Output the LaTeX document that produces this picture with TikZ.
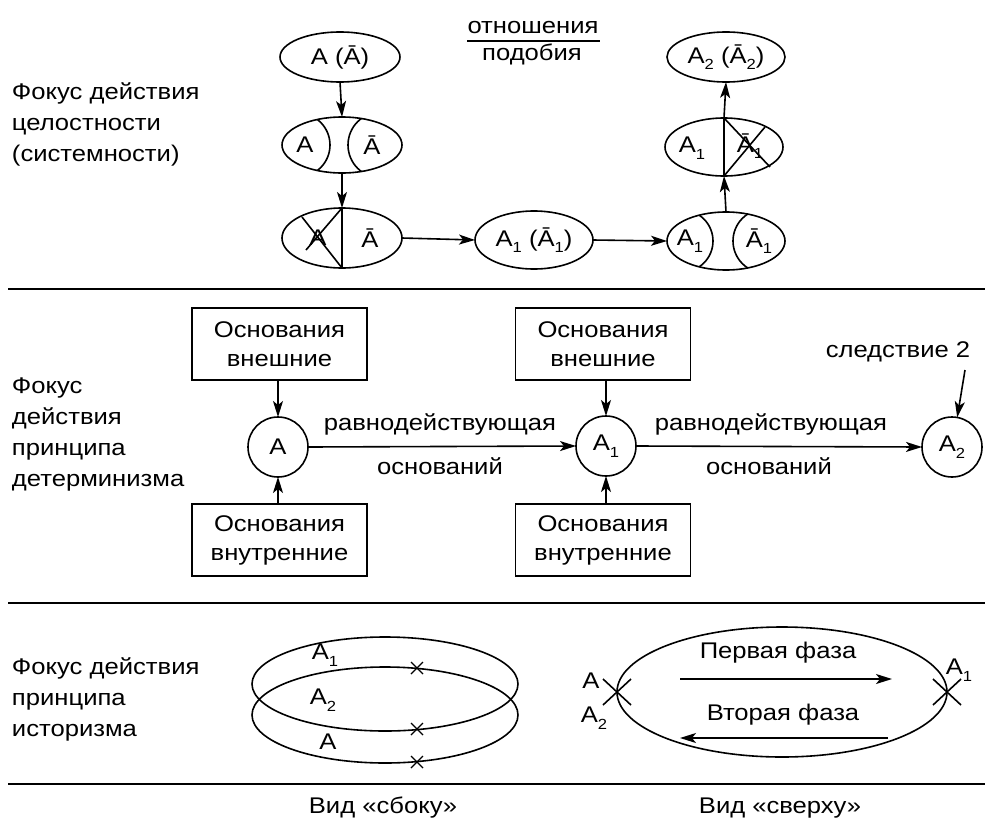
\documentclass[tikz,border=0pt]{standalone}
\usepackage{fontspec}
\setmainfont[FakeStretch=1.13]{Liberation Sans}
\usetikzlibrary{arrows.meta,shapes.geometric}
\newcommand{\sbx}[1]{\raisebox{-0.55ex}{\fontsize{11pt}{11pt}\selectfont #1}}
\begin{document}
\begin{tikzpicture}[x=0.75pt,y=-0.75pt,
  every node/.style={font=\fontsize{17pt}{23.25pt}\selectfont, inner sep=0pt, outer sep=0pt},
  ln/.style={line width=1.2pt},
  sep/.style={line width=2pt},
  arr/.style={ln, -{Stealth[length=12pt,width=7.5pt,inset=3pt]}},
  ell/.style={draw, ln, ellipse},
  circ/.style={draw, ln, circle, minimum size=45pt},
  box/.style={draw, ln, rectangle, minimum width=131.25pt, minimum height=54pt, align=center, font=\fontsize{17pt}{21.75pt}\selectfont},
  lbl/.style={anchor=west, align=left},
  xm/.style={line width=1pt}
]
\useasboundingbox (0,0) rectangle (1000,832);

% ---------- separators
\draw[sep] (8,289) -- (985,289);
\draw[sep] (8,603) -- (985,603);
\draw[sep] (8,784) -- (985,784);

% ---------- top section
\node[lbl] (t1) at (12,124) {Фокус действия\\целостности\\(системности)};

\node[ell, minimum width=90pt, minimum height=37.5pt] (E1) at (340,57) {};
\node (E1t) at (340,57) {A (Ā)};
\node[ell, minimum width=90pt, minimum height=42pt] (E2) at (342,145) {};
\node[ell, minimum width=90pt, minimum height=45pt] (E3) at (342,238) {};
\node[ell, minimum width=88.5pt, minimum height=43.5pt] (E4) at (534,240) {};
\node (E4t) at (534,240) {A\sbx{1} (Ā\sbx{1})};
\node[ell, minimum width=88.5pt, minimum height=43.5pt] (E5) at (726,241) {};
\node[ell, minimum width=88.5pt, minimum height=43.5pt] (E6) at (724,147) {};
\node[ell, minimum width=88.5pt, minimum height=37.5pt] (E7) at (726,57) {};
\node (E7t) at (726,57) {A\sbx{2} (Ā\sbx{2})};

% inner arcs of E2
\begin{scope}
  \clip (342,145) ellipse [x radius=60, y radius=28];
  \draw[ln] (298,145) circle [radius=32];
  \draw[ln] (381,145) circle [radius=33];
\end{scope}
\node (E2a) at (305,145) {A};
\node (E2b) at (372,145) {Ā};

% E3 split and cross
\draw[ln] (E3.north) -- (E3.south);
\draw[ln] (342,208) -- (306,250);
\draw[ln] (302,217) -- (342,268);
\node (E3a) at (318,238) {A};
\node (E3b) at (370,238) {Ā};

% inner arcs of E5
\begin{scope}
  \clip (726,241) ellipse [x radius=59, y radius=29];
  \draw[ln] (682,241) circle [radius=31];
  \draw[ln] (765,241) circle [radius=32];
\end{scope}
\node (E5a) at (690,241) {A\sbx{1}};
\node (E5b) at (759,241) {Ā\sbx{1}};

% E6 split and cross
\draw[ln] (E6.north) -- (E6.south);
\draw[ln] (724,118) -- (770,167);
\draw[ln] (724,176) -- (765,127);
\node (E6a) at (692,148) {A\sbx{1}};
\node (E6b) at (750,146) {Ā\sbx{1}};

\draw[arr] (E1.south) -- (E2.north);
\draw[arr] (E2.south) -- (E3.north);
\draw[arr] (E3.east) -- (E4.west);
\draw[arr] (E4.east) -- (E5.west);
\draw[arr] (E5.north) -- (E6.south);
\draw[arr] (E6.north) -- (E7.south);

\node (ot) at (533,28) {отношения};
\node (pod) at (532,54) {подобия};
\coordinate (fl) at (467,41);
\coordinate (fr) at (600,41);
\draw[ln] (fl) -- (fr);

% ---------- middle section
\node[lbl] (m1) at (12,434) {Фокус\\действия\\принципа\\детерминизма};

\node[box] (B1) at (279.5,344) {Основания\\внешние};
\node[box] (B2) at (279.5,540) {Основания\\внутренние};
\node[box] (B3) at (603,344) {Основания\\внешние};
\node[box] (B4) at (603,540) {Основания\\внутренние};

\node[circ] (cA) at (278,447) {A};
\node[circ] (cA1) at (606,446) {A\sbx{1}};
\node[circ] (cA2) at (952,447) {A\sbx{2}};

\draw[arr] (B1.south -| cA) -- (cA.north);
\draw[arr] (B2.north -| cA) -- (cA.south);
\draw[arr] (B3.south -| cA1) -- (cA1.north);
\draw[arr] (B4.north -| cA1) -- (cA1.south);
\draw[arr] (cA.east) -- (cA1.west);
\draw[arr] (cA1.east) -- (cA2.west);
\node (r1) at (440,424) {равнодействующая};
\node (o1) at (440,466) {оснований};
\node (r2) at (771,424) {равнодействующая};
\node (o2) at (769,466) {оснований};

\node (sl) at (898,352) {следствие 2};
\coordinate (slS) at (965,370);
\draw[arr] (slS) -- (cA2.80);

% ---------- bottom section
\node[lbl] (b1) at (12,699) {Фокус действия\\принципа\\историзма};

\node[ell, minimum width=199.5pt, minimum height=70.5pt] (S1) at (385,684) {};
\node[ell, minimum width=199.5pt, minimum height=72pt] (S2) at (385,715) {};
\foreach \p in {(417,668),(417,729),(417,762)}{
  \draw[xm] \p ++(-6,-6) -- ++(12,12);
  \draw[xm] \p ++(-6,6) -- ++(12,-12);
}
\node (s1) at (325,655) {A\sbx{1}};
\node (s2) at (323,700) {A\sbx{2}};
\node (s3) at (328,742) {A};

\node[ell, minimum width=247.5pt, minimum height=97.5pt] (TV) at (782,692) {};
\draw[ln] (TV.west) ++(-14,-13) -- ++(28,26);
\draw[ln] (TV.west) ++(-14,13) -- ++(28,-26);
\draw[ln] (TV.east) ++(-14,-13) -- ++(28,26);
\draw[ln] (TV.east) ++(-14,13) -- ++(28,-26);
\node (tA) at (591,681) {A};
\node (tA2) at (594,718) {A\sbx{2}};
\node (tA1) at (959,670) {A\sbx{1}};
\node (f1) at (778,653) {Первая фаза};
\node (f2) at (783,715) {Вторая фаза};
\coordinate (f1s) at (680,679);
\coordinate (f1e) at (892,679);
\coordinate (f2s) at (888,738);
\coordinate (f2e) at (680,738);
\draw[arr] (f1s) -- (f1e);
\draw[arr] (f2s) -- (f2e);

\node (v1) at (383,808) {Вид «сбоку»};
\node (v2) at (780,808) {Вид «сверху»};
\end{tikzpicture}
\end{document}
